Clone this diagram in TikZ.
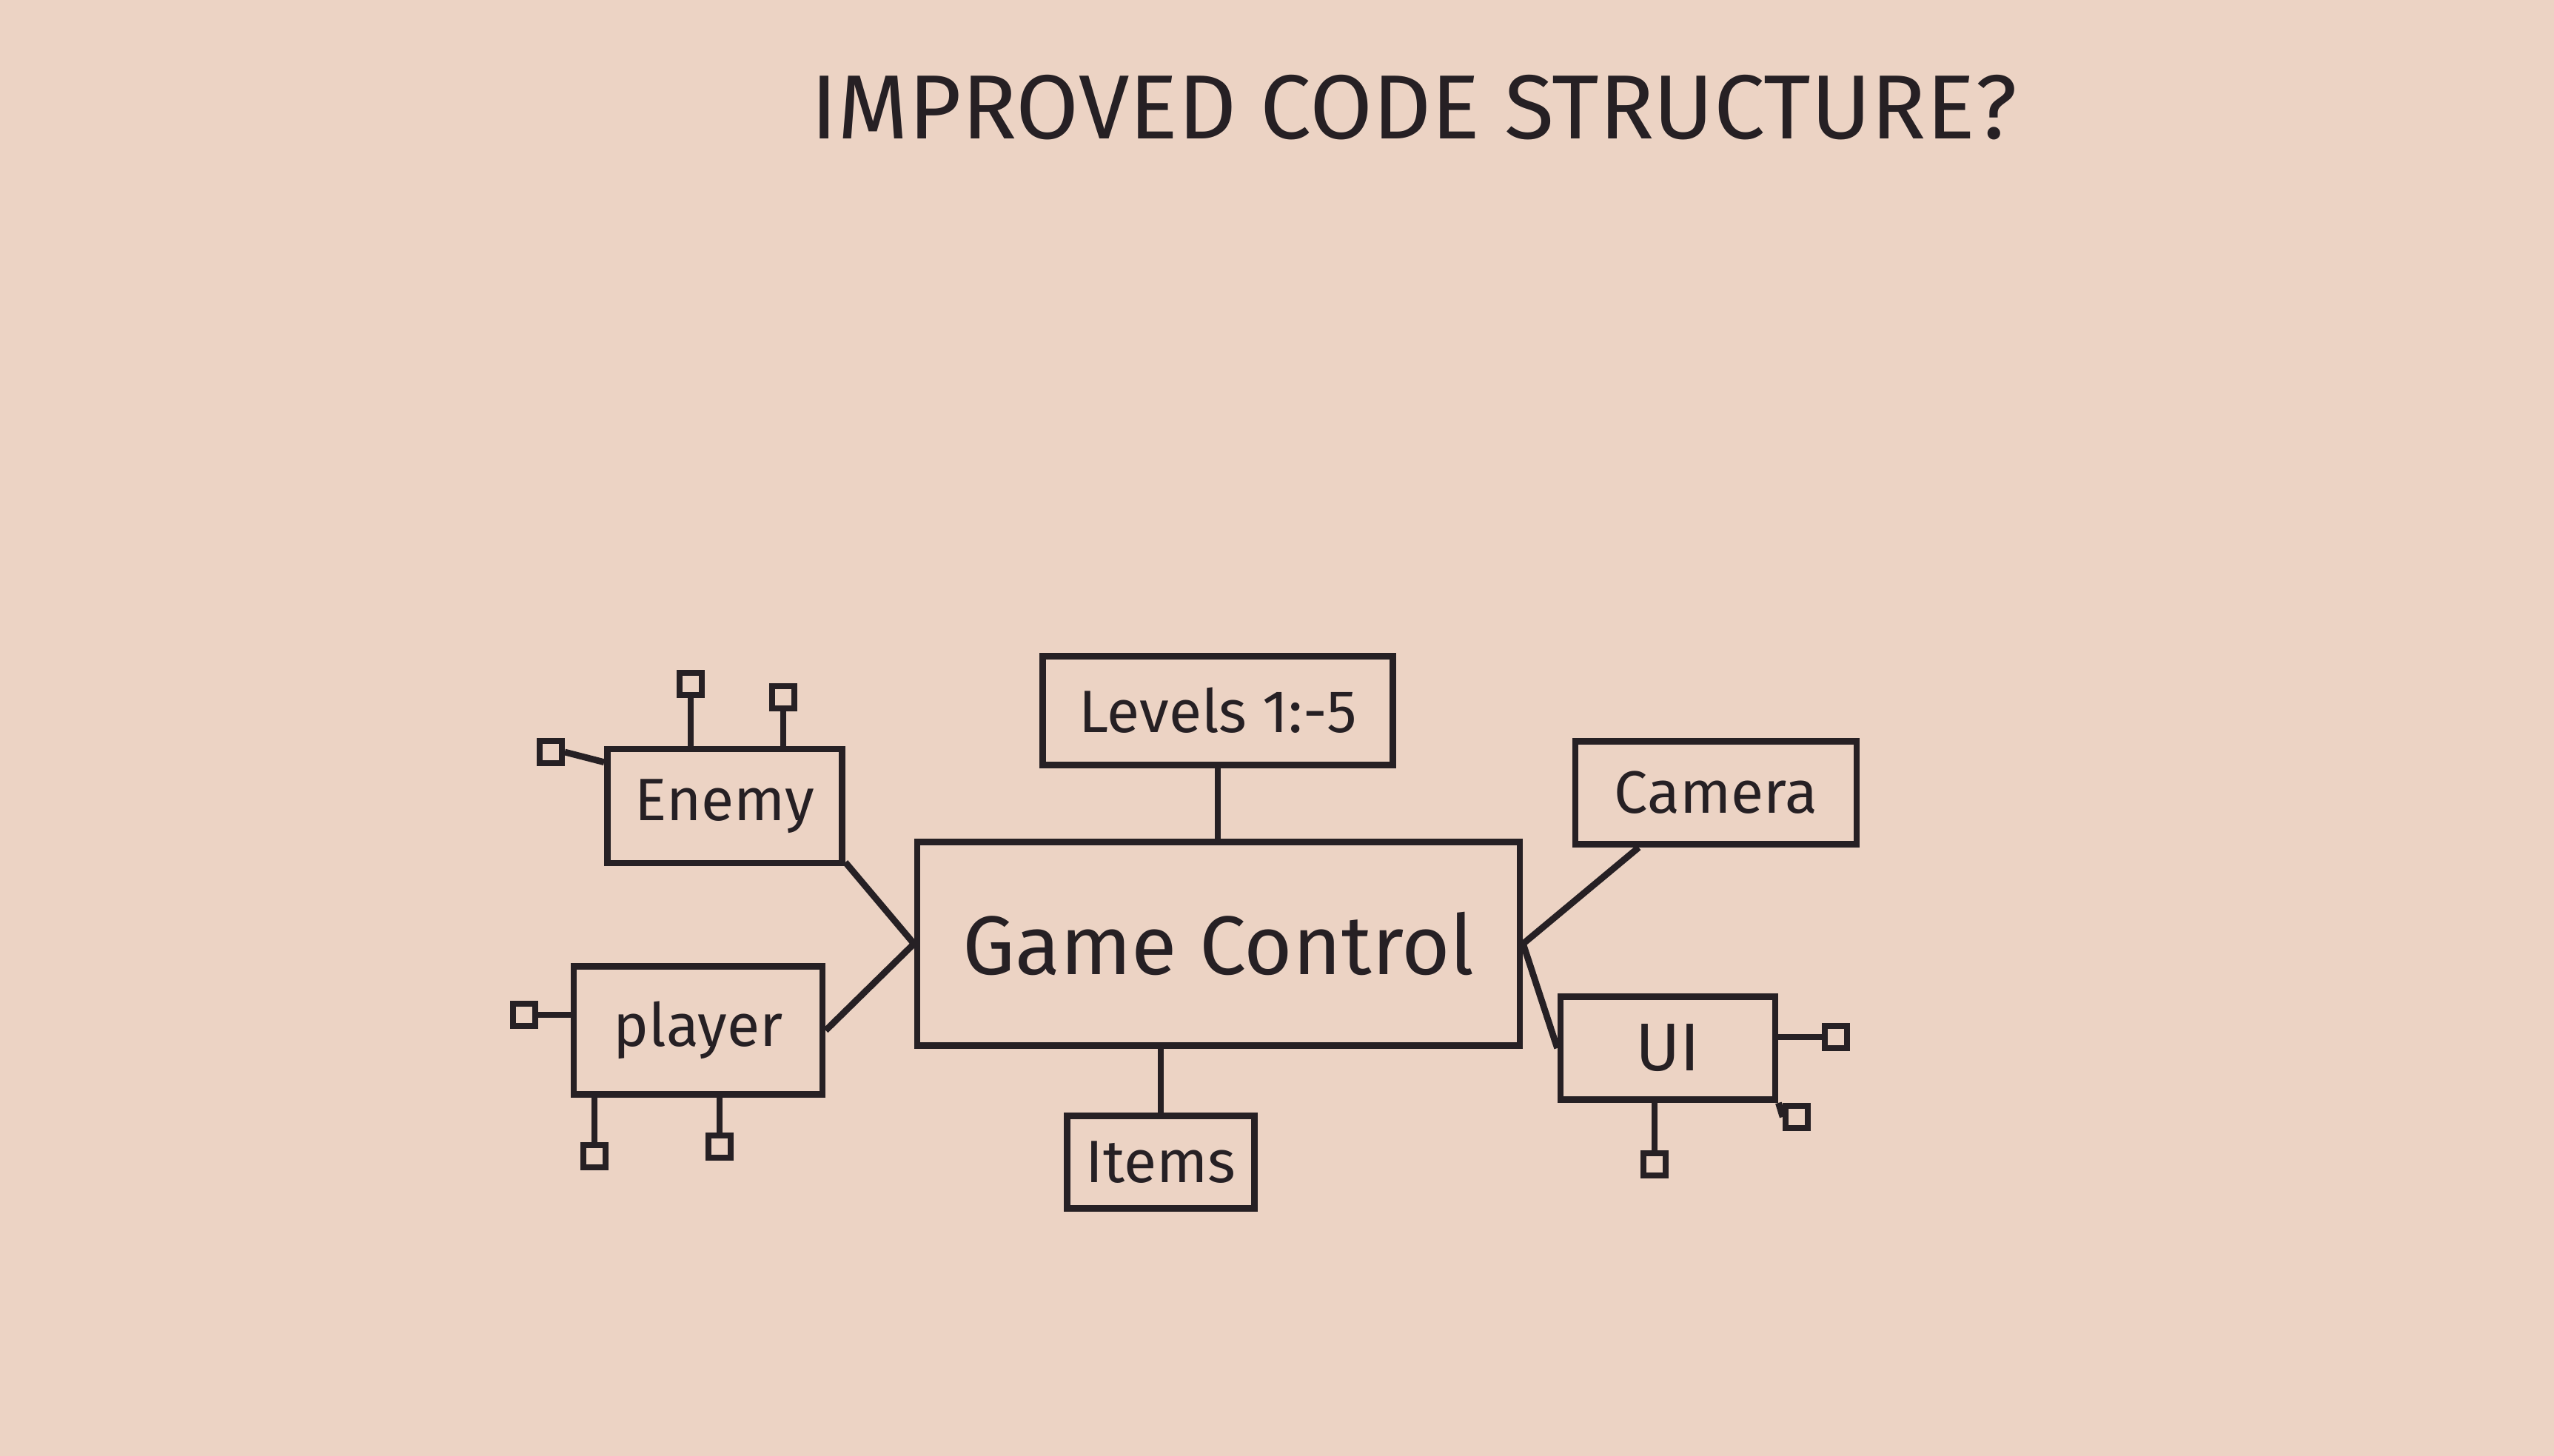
\documentclass[tikz,border=0pt]{standalone}
\usepackage{fontspec}
\setmainfont{Fira Sans}
\usepackage{xcolor}
\definecolor{paper}{RGB}{236,211,196}
\definecolor{ink}{RGB}{38,32,36}

\begin{document}
\begin{tikzpicture}[
  box/.style={draw=ink, line width=2.5pt, text=ink, inner sep=0pt},
  tinybox/.style={draw=ink, line width=2.2pt, minimum size=0.3cm, inner sep=0pt},
  wire/.style={draw=ink, line width=2.5pt},
  bigfont/.style={font=\fontsize{32}{36}\selectfont},
  smallfont/.style={font=\fontsize{23}{28}\selectfont}
]

\fill [paper] (0,0) rectangle (34.5,-19.67) ;
\useasboundingbox (0,0) rectangle (34.5,-19.67) ;

\node [text=ink, font=\fontsize{35}{40}\selectfont] (title) at (19.1,-1.45) {IMPROVED CODE STRUCTURE?} ;

%central box and its neighbours
\node [box, bigfont, minimum width=8.14cm, minimum height=2.75cm] (gc) at (16.46,-12.75) {Game Control} ;
\node [box, smallfont, minimum width=4.73cm, minimum height=1.47cm] (levels) at (16.45,-9.6) {Levels 1:-5} ;
\node [box, smallfont, minimum width=2.53cm, minimum height=1.25cm] (items) at (15.68,-15.7) {Items} ;
\node [box, smallfont, minimum width=3.17cm, minimum height=1.54cm] (enemy) at (9.79,-10.89) {Enemy} ;
\node [box, smallfont, minimum width=3.36cm, minimum height=1.73cm] (player) at (9.43,-13.92) {player} ;
\node [box, smallfont, minimum width=3.8cm, minimum height=1.39cm] (camera) at (23.18,-10.71) {Camera} ;
\node [box, font=\fontsize{26}{30}\selectfont, minimum width=2.9cm, minimum height=1.39cm] (ui) at (22.53,-14.16) {UI} ;

\draw [wire] (levels.south) to (gc.north -| levels.south) ;
\draw [wire] (items.north) to (items.north |- gc.south) ;
\draw [wire] (enemy.-25) to (gc.west) ;
\draw [wire] (player.east) to (gc.west) ;
\draw [wire] (gc.east) to ([xshift=9mm]camera.south west) ;
\draw [wire] (gc.east) to (ui.west) ;

%little squares
\node [tinybox] (e1) at (7.44,-10.16) {} ;
\node [tinybox] (e2) at (9.33,-9.24) {} ;
\node [tinybox] (e3) at (10.58,-9.42) {} ;
\node [tinybox] (p1) at (7.08,-13.71) {} ;
\node [tinybox] (p2) at (8.03,-15.62) {} ;
\node [tinybox] (p3) at (9.72,-15.49) {} ;
\node [tinybox] (u1) at (24.8,-14.01) {} ;
\node [tinybox] (u2) at (24.27,-15.09) {} ;
\node [tinybox] (u3) at (22.35,-15.73) {} ;

\draw [wire] (e1.east) to (enemy.160) ;
\draw [wire] (e2.south) to (e2 |- enemy.north) ;
\draw [wire] (e3.south) to (e3 |- enemy.north) ;
\draw [wire] (p1.east) to (p1 -| player.west) ;
\draw [wire] (p2.north) to (p2 |- player.south) ;
\draw [wire] (p3.north) to (p3 |- player.south) ;
\draw [wire] (u1.west) to (u1 -| ui.east) ;
\draw [wire] (u2.west) to (ui.south east) ;
\draw [wire] (u3.north) to (u3 |- ui.south) ;

\end{tikzpicture}
\end{document}
